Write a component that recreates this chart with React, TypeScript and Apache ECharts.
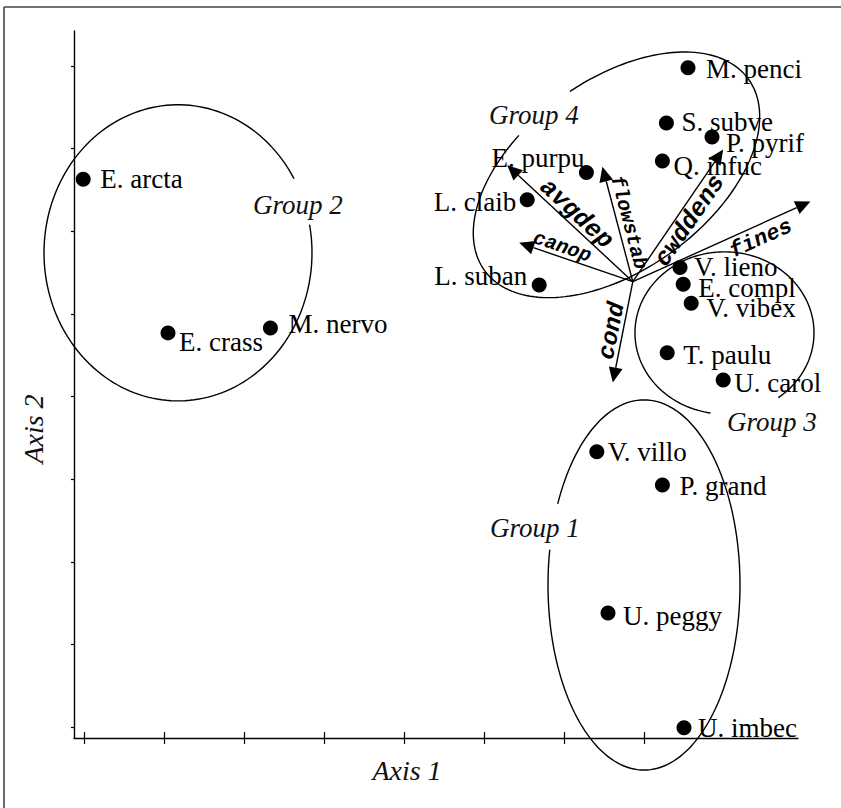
import React, { useEffect, useRef } from "react";
import * as echarts from "echarts";

// ---------- data ----------
const speciesNames = [
  "E. arcta", "E. crass", "M. nervo", "M. penci", "S. subve", "P. pyrif", "Q. infuc",
  "E. purpu", "L. claib", "L. suban", "V. lieno", "E. compl", "V. vibex", "T. paulu",
  "U. carol", "V. villo", "P. grand", "U. peggy", "U. imbec",
];
const axis1Scores = [-0.01, 1.05, 2.33, 7.55, 7.28, 7.85, 7.23, 6.28, 5.54, 5.69, 7.45, 7.49, 7.59, 7.29, 7.99, 6.41, 7.23, 6.55, 7.5];
const axis2Scores = [6.63, 4.77, 4.83, 7.98, 7.31, 7.14, 6.85, 6.71, 6.38, 5.35, 5.56, 5.36, 5.13, 4.53, 4.2, 3.33, 2.93, 1.38, -0.01];

const vectorNames = ["avgdep", "flowstab", "cwddens", "fines", "canop", "cond"];
const vectorOrigin = [6.86, 5.39];
const vectorTipX = [5.29, 6.48, 7.99, 9.08, 5.44, 6.61];
const vectorTipY = [6.8, 6.78, 6.99, 6.36, 5.86, 4.17];

const groupNames = ["Group 1", "Group 2", "Group 3", "Group 4"];
const groupCenterX = [7.0, 1.175, 8.006, 6.656];
const groupCenterY = [1.719, 5.739, 4.77, 6.683];
const groupRadiusX = [1.2, 1.675, 1.119, 2.0375];
const groupRadiusY = [2.24, 1.792, 0.981, 1.15];
const groupTilt = [0, 0, 0, -36];
const groupGapStart = [191, -30, 53, -110];
const groupGapEnd = [206, -11, 99, -86];
const groupLabelX = [5.075, 2.1125, 8.0375, 5.0625];
const groupLabelY = [2.409, 6.32, 3.692, 7.409];

const axis1Ticks = [0, 1, 2, 3, 4, 5, 6, 7];
const axis2Ticks = [0, 1, 2, 3, 4, 5, 6, 7, 8];

// ---------- styles ----------
const SERIF = '"Liberation Serif", "Times New Roman", serif';
const MONO = '"Liberation Mono", "Courier New", monospace';
const INK = "#000";

const labelPlacement: Record<string, [string, number, number]> = {
  "E. arcta": ["right", 9.5, 0],
  "E. crass": ["right", 3.5, 9],
  "M. nervo": ["right", 10.5, -4],
  "M. penci": ["right", 10.5, 1],
  "S. subve": ["right", 7.5, -1],
  "P. pyrif": ["right", 6.5, 6],
  "Q. infuc": ["right", 3.5, 5],
  "E. purpu": ["left", 5.5, -15],
  "L. claib": ["left", -3.5, 2],
  "L. suban": ["left", -4.5, -9],
  "V. lieno": ["right", 6.5, -1],
  "E. compl": ["right", 7.5, 4],
  "V. vibex": ["right", 7.5, 5],
  "T. paulu": ["right", 8.5, 2],
  "U. carol": ["right", 3.5, 3],
  "V. villo": ["right", 3.5, 0],
  "P. grand": ["right", 9.5, 1],
  "U. peggy": ["right", 7.5, 3],
  "U. imbec": ["right", 6.5, 0],
};

// position along arrow (fraction), perpendicular offset (px), font size
const vectorLabelStyle: Record<string, [number, number, number]> = {
  avgdep: [0.51, 11, 25],
  flowstab: [0.49, 11, 20],
  cwddens: [0.515, 13, 25],
  fines: [0.69, 14, 22],
  canop: [0.65, 10, 20],
  cond: [0.51, 11, 24],
};

export default function App() {
  const ref = useRef<HTMLDivElement>(null);

  useEffect(() => {
    document.body.style.margin = "0";
    if (!ref.current) return;
    const chart = echarts.init(ref.current, null, { renderer: "svg" });

    const scatterData = speciesNames.map((name, i) => {
      const [pos, ox, oy] = labelPlacement[name];
      return {
        name,
        value: [axis1Scores[i], axis2Scores[i]],
        label: { position: pos, offset: [ox, oy] },
      };
    });

    const vectorData = vectorNames.map((name, i) => ({
      name,
      value: [vectorOrigin[0], vectorOrigin[1], vectorTipX[i], vectorTipY[i]],
    }));

    const groupData = groupNames.map((name, i) => ({
      name,
      value: [
        groupCenterX[i], groupCenterY[i], groupRadiusX[i], groupRadiusY[i],
        groupTilt[i], groupGapStart[i], groupGapEnd[i], groupLabelX[i], groupLabelY[i],
      ],
    }));

    const renderVector = (params: any, api: any) => {
      const name = vectorNames[params.dataIndex];
      const o = api.coord([api.value(0), api.value(1)]);
      const t = api.coord([api.value(2), api.value(3)]);
      const dx = t[0] - o[0];
      const dy = t[1] - o[1];
      const len = Math.hypot(dx, dy);
      const ux = dx / len;
      const uy = dy / len;
      const nx = -uy;
      const ny = ux;
      const headLen = 15;
      const headW = 7;
      const bx = t[0] - ux * headLen;
      const by = t[1] - uy * headLen;
      const [frac, off, fs] = vectorLabelStyle[name];
      const lx = o[0] + dx * frac + nx * off;
      const ly = o[1] + dy * frac + ny * off;
      const rx = ux >= 0 ? ux : -ux;
      const ry = ux >= 0 ? uy : -uy;
      const rot = -Math.atan2(ry, rx);
      return {
        type: "group",
        children: [
          {
            type: "line",
            shape: { x1: o[0], y1: o[1], x2: bx, y2: by },
            style: { stroke: INK, lineWidth: 1.4 },
          },
          {
            type: "polygon",
            shape: {
              points: [
                [t[0], t[1]],
                [bx + nx * headW, by + ny * headW],
                [bx - nx * headW, by - ny * headW],
              ],
            },
            style: { fill: INK },
          },
          {
            type: "text",
            x: lx,
            y: ly,
            rotation: rot,
            style: {
              text: name,
              fill: INK,
              fontFamily: MONO,
              fontSize: fs,
              fontWeight: "bold",
              fontStyle: "italic",
              align: "center",
              verticalAlign: "middle",
            },
          },
        ],
      };
    };

    const renderGroup = (params: any, api: any) => {
      const name = groupNames[params.dataIndex];
      const c = api.coord([api.value(0), api.value(1)]);
      const a = api.size([api.value(2), 0])[0];
      const b = api.size([0, api.value(3)])[1];
      const phi = (api.value(4) * Math.PI) / 180;
      const g0 = api.value(5);
      const g1 = api.value(6);
      const pt = (deg: number) => {
        const tt = (deg * Math.PI) / 180;
        const ex = a * Math.cos(tt);
        const ey = b * Math.sin(tt);
        return [
          c[0] + ex * Math.cos(phi) - ey * Math.sin(phi),
          c[1] + ex * Math.sin(phi) + ey * Math.cos(phi),
        ];
      };
      // outline of the ellipse, leaving the gap where the group label sits
      const outline: number[][] = [];
      const end = g0 + 360;
      for (let d = g1; d < end; d += 2) outline.push(pt(d));
      outline.push(pt(end));
      const lp = api.coord([api.value(7), api.value(8)]);
      return {
        type: "group",
        children: [
          {
            type: "polyline",
            shape: { points: outline, smooth: 0 },
            style: { stroke: INK, fill: "none", lineWidth: 1.4 },
          },
          {
            type: "text",
            x: lp[0],
            y: lp[1],
            style: {
              text: name,
              fill: "#111",
              fontFamily: SERIF,
              fontSize: 27,
              fontStyle: "italic",
              align: "left",
              verticalAlign: "middle",
            },
          },
        ],
      };
    };

    const baseX = {
      type: "value",
      min: -0.125,
      max: 8.925,
      splitLine: { show: false },
      axisLabel: { show: false },
    };

    chart.setOption({
      animation: false,
      backgroundColor: "#fff",
      grid: { left: 74, right: 43, top: 31, bottom: 70, containLabel: false },
      xAxis: [
        {
          ...baseX,
          position: "bottom",
          axisLine: { show: true, onZero: false, lineStyle: { color: INK, width: 1.4 } },
          axisTick: { show: true, inside: false, length: 6, customValues: axis1Ticks, lineStyle: { color: INK, width: 1.2 } },
        },
        {
          ...baseX,
          position: "bottom",
          axisLine: { show: false, onZero: false },
          axisTick: { show: true, inside: true, length: 6, customValues: axis1Ticks, lineStyle: { color: INK, width: 1.2 } },
        },
      ],
      yAxis: {
        type: "value",
        min: -0.1331,
        max: 8.4236,
        splitLine: { show: false },
        axisLabel: { show: false },
        axisLine: { show: true, onZero: false, lineStyle: { color: INK, width: 1.4 } },
        axisTick: { show: true, inside: false, length: 3, customValues: axis2Ticks, lineStyle: { color: INK, width: 1.2 } },
      },
      graphic: [
        { type: "line", shape: { x1: 4, y1: 7, x2: 841, y2: 7 }, style: { stroke: "#444", lineWidth: 1.6 } },
        { type: "line", shape: { x1: 4, y1: 7, x2: 4, y2: 808 }, style: { stroke: "#444", lineWidth: 1.6 } },
        {
          type: "text",
          x: 407,
          y: 770,
          style: {
            text: "Axis 1",
            fill: "#111",
            font: `italic 28px ${SERIF}`,
            align: "center",
            verticalAlign: "middle",
            textAlign: "center",
            textVerticalAlign: "middle",
          },
        },
        {
          type: "text",
          x: 33,
          y: 429,
          rotation: Math.PI / 2,
          style: {
            text: "Axis 2",
            fill: "#111",
            font: `italic 28px ${SERIF}`,
            align: "center",
            verticalAlign: "middle",
            textAlign: "center",
            textVerticalAlign: "middle",
          },
        },
      ],
      series: [
        {
          type: "custom",
          name: "groups",
          xAxisIndex: 0,
          yAxisIndex: 0,
          clip: false,
          renderItem: renderGroup,
          data: groupData,
          z: 2,
        },
        {
          type: "custom",
          name: "vectors",
          xAxisIndex: 0,
          yAxisIndex: 0,
          clip: false,
          renderItem: renderVector,
          data: vectorData,
          z: 3,
        },
        {
          type: "scatter",
          name: "species",
          xAxisIndex: 0,
          yAxisIndex: 0,
          symbol: "circle",
          symbolSize: 15,
          itemStyle: { color: INK, opacity: 1 },
          label: {
            show: true,
            formatter: "{b}",
            distance: 0,
            color: "#000",
            fontFamily: SERIF,
            fontSize: 27,
          },
          emphasis: { disabled: true },
          data: scatterData,
          z: 4,
        },
      ],
    });

    return () => {
      chart.dispose();
    };
  }, []);

  return <div ref={ref} style={{ width: 841, height: 808, background: "#fff" }} />;
}
